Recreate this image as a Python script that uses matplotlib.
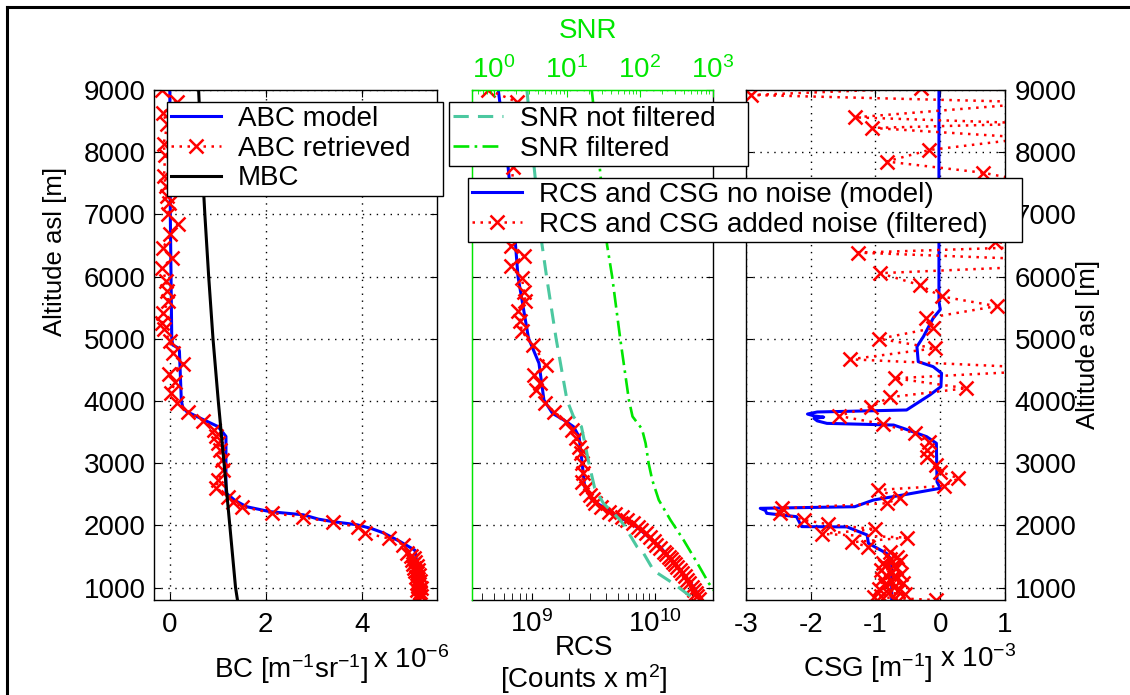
import matplotlib
matplotlib.use('Agg')
from matplotlib import pyplot as plt
from matplotlib.lines import Line2D
import numpy as np

plt.rcParams['font.family'] = ['Liberation Sans', 'DejaVu Sans']
plt.rcParams['mathtext.fontset'] = 'custom'
plt.rcParams['mathtext.rm'] = 'Liberation Sans'
plt.rcParams['mathtext.it'] = 'Liberation Sans:italic'
plt.rcParams['mathtext.default'] = 'regular'
plt.rcParams['axes.unicode_minus'] = False

# ---- panel 1: backscatter coefficient (x 1e-6) ----
abc_model_alt = [9000, 7000, 5000, 4900, 4850, 4800, 4000, 3900, 3830, 3700, 3590, 3500, 3430,
                 2520, 2400, 2300, 2220, 2170, 2100, 2060, 2010, 1950, 1880, 1740, 1600, 1400, 800]
abc_model = [0.0, 0.01, 0.04, 0.06, 0.18, 0.2, 0.24, 0.27, 0.35, 0.7, 1.0, 1.1, 1.17,
             1.17, 1.36, 1.6, 2.09, 2.78, 3.1, 3.4, 3.9, 4.2, 4.45, 4.8, 5.11, 5.15, 5.2]

abc_ret_alt = [9000, 8810, 8630, 8450, 8130, 7950, 7620, 7450, 7290, 7180, 7000, 6840, 6680,
               6460, 6300, 6140, 5930, 5770, 5610, 5420, 5260, 5150, 4960, 4770, 4600, 4430,
               4300, 4130, 3970, 3830, 3680, 3530, 3430, 3320, 3210, 3050, 2890, 2730, 2600,
               2460, 2380, 2300, 2200, 2130, 2050, 1970, 1880, 1790, 1690, 1550,
               1500, 1470, 1440, 1410, 1380, 1350, 1320, 1290, 1260, 1230, 1200, 1170, 1140,
               1110, 1080, 1050, 1020, 990, 960, 930, 900, 870, 840, 810]
abc_ret = [-0.17, 0.14, -0.14, -0.05, -0.13, -0.10, -0.12, -0.08, -0.06, -0.02, -0.03, 0.16, 0.0,
           -0.14, 0.05, -0.17, -0.07, -0.05, -0.03, -0.14, -0.17, -0.12, 0.0, 0.06, 0.28, -0.01,
           0.10, 0.03, 0.15, 0.38, 0.70, 0.92, 0.97, 1.01, 1.04, 1.08, 1.10, 1.01, 0.97,
           1.22, 1.32, 1.50, 2.12, 2.78, 3.41, 3.93, 4.07, 4.56, 4.87, 4.94,
           5.02, 5.10, 5.05, 5.12, 5.08, 5.15, 5.10, 5.18, 5.12, 5.16, 5.20, 5.14, 5.18,
           5.22, 5.15, 5.20, 5.17, 5.23, 5.16, 5.21, 5.19, 5.24, 5.18, 5.20]

mbc_alt = [9000, 8000, 7000, 6000, 5000, 4000, 3000, 2000, 1000, 800]
mbc = [0.60, 0.66, 0.73, 0.81, 0.90, 1.01, 1.13, 1.25, 1.37, 1.41]

# ---- panel 2: range corrected signal (x 1e9) and SNR ----
rcs_model_alt = [9000, 7750, 6510, 6000, 5010, 4606, 4016, 3800, 3695, 3587, 3426, 2998, 2622,
                 2408, 2193, 1980, 1658, 1337, 1015, 800]
rcs_model = [0.537, 0.646, 0.741, 0.776, 0.944, 1.148, 1.259, 1.479, 1.820, 2.188, 2.427, 2.570,
             2.692, 3.090, 4.571, 7.079, 10.96, 15.14, 20.42, 23.99]

rcs_ret_alt = [9000, 8810, 8450, 8100, 7770, 7400, 7100, 6800, 6490, 6330, 6170, 5980, 5760,
               5600, 5440, 5280, 5120, 4900, 4580, 4420, 4285, 4180, 3965, 3830, 3670, 3535,
               3400, 3265, 3160, 2998, 2838, 2703, 2600, 2490, 2420, 2355, 2290, 2220, 2180,
               2140, 2090, 2033, 1980, 1926, 1870, 1820, 1750, 1685, 1630, 1577, 1540, 1497,
               1460, 1417, 1380, 1337, 1290, 1230, 1180, 1122, 1070, 1015, 960, 908, 860, 820]
rcs_ret = [0.447, 0.759, 0.70, 0.66, 0.708, 0.69, 0.63, 0.72, 0.676, 0.871, 0.676, 0.832, 0.871,
           0.891, 0.776, 0.813, 0.832, 1.023, 1.318, 1.047, 1.175, 1.096, 1.288, 1.514, 1.905,
           2.138, 2.291, 2.427, 2.512, 2.570, 2.630, 2.570, 2.754, 2.951, 3.162, 3.236, 3.631,
           4.266, 4.786, 5.370, 5.888, 6.607, 7.244, 7.762, 8.511, 9.120, 9.772, 10.23, 10.96,
           11.75, 12.30, 12.88, 13.49, 14.13, 14.45, 15.14, 15.85, 16.60, 17.38, 18.20, 19.05,
           19.95, 20.89, 21.38, 21.88, 22.65]

snr_raw_alt = [9000, 7750, 6535, 6000, 5010, 4016, 3748, 3587, 3000, 2600, 2355, 2087, 2007,
               1658, 1555, 1272, 1058, 855, 800]
snr_raw = [2.82, 3.55, 4.52, 5.25, 7.08, 10.0, 12.3, 15.8, 20.0, 24.0, 31.6, 53.7, 60.3,
           91.2, 112, 155, 295, 501, 562]

snr_filt_alt = [9000, 7750, 6510, 6000, 5010, 4016, 3750, 3550, 3320, 2998, 2730, 2408, 2087,
                1765, 1390, 1064, 900]
snr_filt = [21.9, 28.2, 35.5, 41.7, 53.7, 70.8, 79.4, 107, 120, 132, 148, 182, 263,
            398, 617, 891, 1122]

# ---- panel 3: cloud signal gradient (x 1e-3) ----
csg_model_alt = [9000, 5600, 5470, 5330, 5035, 4873, 4632, 4552, 4446, 4230, 4097, 3855, 3823,
                 3790, 3760, 3740, 3720, 3680, 3640, 3613, 3560, 3426, 3320, 2700, 2596, 2490,
                 2408, 2300, 2274, 2240, 2193, 2140, 2100, 1980, 1975, 1846, 1712, 1550, 1443, 800]
csg_model = [-0.02, -0.02, 0.0, -0.11, -0.26, -0.36, -0.34, -0.11, 0.02, 0.01, -0.16, -0.52, -1.9,
             -2.05, -1.95, -1.8, -1.95, -1.9, -1.75, -0.72, -0.57, -0.21, -0.06, -0.05, 0.0, -0.57,
             -1.03, -1.32, -2.78, -2.7, -2.68, -2.22, -2.2, -2.14, -1.44, -1.13, -1.11, -0.83, -0.75, -0.75]

csg_ret_alt = [9030, 8920, 8800, 8560, 8460, 8390, 8230, 8035, 7850, 7670, 7500, 7300, 7100, 6900,
               6700, 6560, 6480, 6385, 6280, 6150, 6055, 5865, 5680, 5525, 5330, 5170, 5000, 4847,
               4670, 4510, 4365, 4205, 4060, 3910, 3760, 3630, 3480, 3345, 3212, 3105, 2970, 2865,
               2755, 2635, 2570, 2440, 2355, 2275, 2195, 2087, 2018, 1938, 1862, 1803, 1728, 1658,
               1577, 1497, 1460, 1430, 1400, 1370, 1340, 1310, 1280, 1250, 1220, 1190, 1160, 1130,
               1100, 1070, 1040, 1010, 980, 950, 920, 890, 870, 855, 830, 800]
csg_ret = [-0.3, -2.92, 1.6, -1.32, 1.5, -1.05, 1.4, -0.17, -0.83, 0.66, 1.5, -0.6, 1.3, -0.2,
           1.7, 0.85, 1.5, -1.27, 1.4, 1.2, -0.93, -0.32, 0.02, 0.87, -0.22, -0.11, -0.94, -0.08,
           -1.39, 2.0, -0.70, 0.40, -0.78, -1.07, -1.57, -0.89, -0.39, -0.18, -0.21, -0.21, -0.06, 0.0,
           0.28, 0.06, -0.96, -0.62, -0.83, -2.45, -2.48, -2.11, -1.73, -1.01, -1.83, -0.52, -1.37, -1.11,
           -0.78, -0.67, -0.78, -0.62, -0.88, -0.72, -0.85, -0.68, -0.92, -0.75, -0.60, -0.82, -0.70, -0.90,
           -0.76, -0.58, -0.85, -0.72, -0.95, -0.66, -0.80, -0.55, -0.92, -1.03, -0.70, -0.06]

alt_ticks = [1000, 2000, 3000, 4000, 5000, 6000, 7000, 8000, 9000]

BLUE = '#0000ff'
RED = '#ff0000'
TEAL = '#4cc8a0'
GREEN = '#00e600'
FS = 20
W, H = 1130, 695

fig = plt.figure(figsize=(W / 100, H / 100), dpi=100)


def box(x0, x1, y0=90, y1=600):
    return [x0 / W, 1 - y1 / H, (x1 - x0) / W, (y1 - y0) / H]


def fx(x):
    return x / W


def fy(y):
    return 1 - y / H


ax1 = fig.add_axes(box(154, 437))
ax2 = fig.add_axes(box(471.5, 712.7))
ax3 = fig.add_axes(box(746, 1005))

ret_style = dict(color=RED, linestyle=(0, (1, 2.2)), linewidth=1.8, marker='x',
                 markersize=10, markeredgewidth=1.8)
grid_style = dict(color='black', linestyle=(0, (1, 4)), linewidth=1.0)

for ax in (ax1, ax2, ax3):
    ax.set_ylim(800, 9000)
    ax.set_yticks(alt_ticks)
    ax.tick_params(which='both', direction='in', length=5, labelsize=FS,
                   top=True, right=True)
    for s in ax.spines.values():
        s.set_linewidth(1.0)

# panel 1
l_abc, = ax1.plot(abc_model, abc_model_alt, color=BLUE, lw=2.2)
l_ret, = ax1.plot(abc_ret, abc_ret_alt, **ret_style)
l_mbc, = ax1.plot(mbc, mbc_alt, color='black', lw=2.2)
ax1.set_xlim(-0.33, 5.57)
ax1.set_xticks([0, 2, 4])
ax1.grid(True, **grid_style)
ax1.tick_params(axis='x', pad=9)
ax1.tick_params(axis='y', pad=6)

# panel 2
r_mod, = ax2.plot(np.array(rcs_model) * 1e9, rcs_model_alt, color=BLUE, lw=2.2)
r_ret, = ax2.plot(np.array(rcs_ret) * 1e9, rcs_ret_alt, **ret_style)
ax2.set_xscale('log')
ax2.set_xlim(10 ** 8.513, 10 ** 10.468)
ax2.yaxis.grid(True, **grid_style)
ax2.tick_params(axis='y', labelleft=False)
ax2.tick_params(axis='x', top=False, pad=7)
ax2.spines['left'].set_color(GREEN)
ax2.spines['top'].set_color(GREEN)

ax2t = ax2.twiny()
s_raw, = ax2t.plot(snr_raw, snr_raw_alt, color=TEAL, lw=2.2, linestyle=(0, (5, 3)))
s_filt, = ax2t.plot(snr_filt, snr_filt_alt, color=GREEN, lw=1.9, linestyle=(0, (6, 2, 1, 2)))
ax2t.set_xscale('log')
ax2t.set_xlim(10 ** -0.31, 1e3)
ax2t.set_ylim(800, 9000)
ax2t.tick_params(axis='x', which='both', direction='in', colors=GREEN, labelsize=FS, pad=4)
ax2t.tick_params(axis='x', which='major', length=5)
ax2t.tick_params(axis='x', which='minor', length=3)
ax2t.spines['top'].set_color(GREEN)
ax2t.spines['left'].set_color(GREEN)
ax2t.spines['bottom'].set_visible(False)
ax2t.spines['right'].set_visible(False)

# panel 3
c_mod, = ax3.plot(csg_model, csg_model_alt, color=BLUE, lw=2.2)
c_ret, = ax3.plot(csg_ret, csg_ret_alt, **ret_style)
ax3.set_xlim(-3, 1)
ax3.set_xticks([-3, -2, -1, 0, 1])
ax3.grid(True, **grid_style)
ax3.tick_params(axis='y', labelleft=False, labelright=True, pad=7)
ax3.tick_params(axis='x', pad=9)

# legends on top of every panel
leg_kw = dict(loc='upper left', mode='expand', borderaxespad=0, fancybox=False,
              edgecolor='black', framealpha=1, fontsize=FS, handlelength=1.8,
              handletextpad=0.6, labelspacing=0.13, borderpad=0.15, numpoints=1)


def leg_box(x0, x1, top):
    h = 0.01
    return (fx(x0), fy(top) - h, fx(x1) - fx(x0), h)


leg1 = fig.legend([l_abc, l_ret, l_mbc], ['ABC model', 'ABC retrieved', 'MBC'],
                  bbox_to_anchor=leg_box(167, 443, 102), **leg_kw)
leg2 = fig.legend([s_raw, s_filt], ['SNR not filtered', 'SNR filtered'],
                  bbox_to_anchor=leg_box(449, 748, 102), **leg_kw)
leg3 = fig.legend([r_mod, r_ret], ['RCS and CSG no noise (model)',
                                   'RCS and CSG added noise (filtered)'],
                  bbox_to_anchor=leg_box(468, 1022, 178), **leg_kw)
for lg in (leg1, leg2, leg3):
    lg.get_frame().set_linewidth(1.0)

# axis labels
fig.text(fx(55), fy(251), 'Altitude asl [m]', rotation=90, ha='center', va='center', fontsize=18.5)
fig.text(fx(1088), fy(344), 'Altitude asl [m]', rotation=90, ha='center', va='center', fontsize=18.5)
fig.text(fx(214), fy(678), 'BC [m$^{-1}$sr$^{-1}$]', ha='left', va='baseline', fontsize=FS)
fig.text(fx(373), fy(668), 'x 10$^{-6}$', ha='left', va='baseline', fontsize=FS)
fig.text(fx(584), fy(655), 'RCS', ha='center', va='baseline', fontsize=FS)
fig.text(fx(584), fy(688), '[Counts x m$^{2}$]', ha='center', va='baseline', fontsize=FS)
fig.text(fx(803), fy(677), 'CSG [m$^{-1}$]', ha='left', va='baseline', fontsize=FS)
fig.text(fx(940), fy(667), 'x 10$^{-3}$', ha='left', va='baseline', fontsize=FS)
fig.text(fx(588), fy(38), 'SNR', ha='center', va='baseline', fontsize=FS, color=GREEN)

# frame around the figure (left and top edges visible)
fig.add_artist(Line2D([fx(7), fx(7)], [0, fy(7)], color='black', lw=2.2, transform=fig.transFigure))
fig.add_artist(Line2D([fx(7), 1], [fy(7), fy(7)], color='black', lw=2.2, transform=fig.transFigure))

fig.savefig('out.png', dpi=100)
